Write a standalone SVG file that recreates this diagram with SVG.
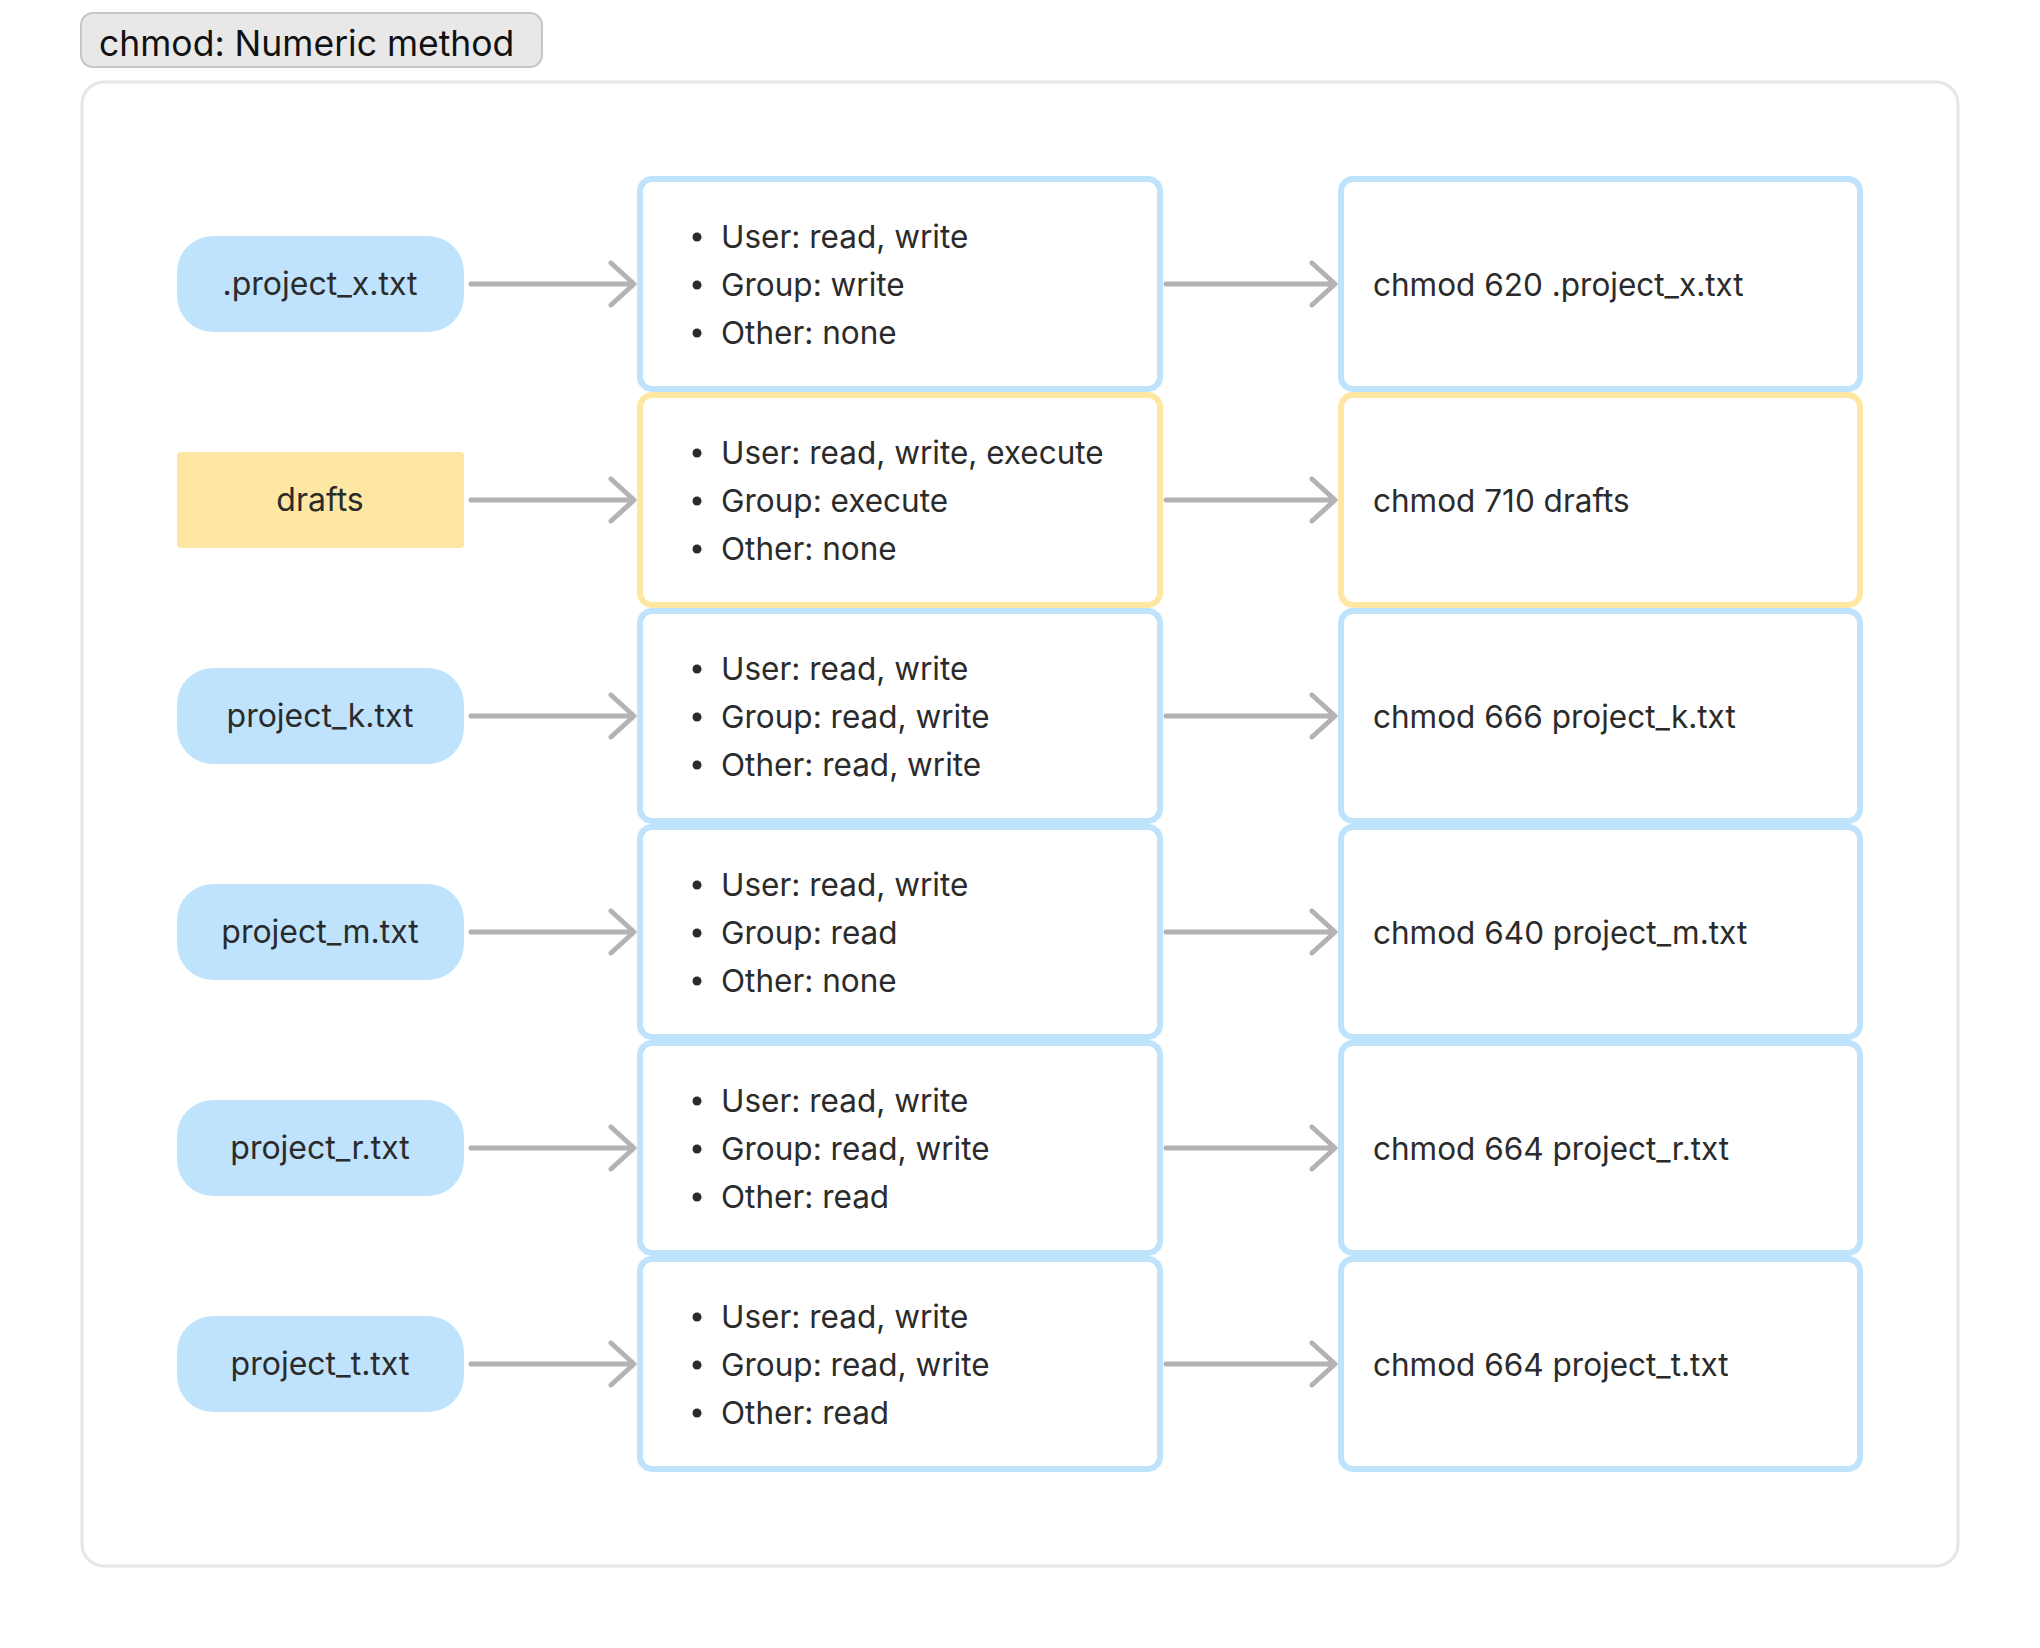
<svg xmlns="http://www.w3.org/2000/svg" width="2040" height="1648" viewBox="0 0 2040 1648">
<style>
.t{font-family:Inter,"Noto Sans","Liberation Sans",sans-serif;fill:#2b2b2b;font-size:31.5px}
.n{font-family:Inter,"Noto Sans","Liberation Sans",sans-serif;fill:#2b2b2b;font-size:32px}
.ttl{font-family:Inter,"Noto Sans","Liberation Sans",sans-serif;fill:#111;font-size:35.5px}
.pill{fill:#bfe3fd}
.sq{fill:#fee7a3}
.bb{fill:#fff;stroke:#bfe3fd;stroke-width:6}
.yb{fill:#fff;stroke:#fee7a3;stroke-width:6}
.arr{fill:none;stroke:#b3b3b3;stroke-width:5;stroke-linecap:round;stroke-linejoin:round}
.dot{fill:#2b2b2b}
</style>
<rect x="0" y="0" width="2040" height="1648" fill="#fff"/>
<g id="title">
<rect x="81" y="13" width="461" height="54" rx="12" fill="#e8e8e8" stroke="#c6c6c6" stroke-width="2"/>
<text class="ttl" x="99" y="56">chmod: Numeric method</text>
</g>
<g id="frame">
<rect x="82" y="82" width="1876" height="1484" rx="22" fill="none" stroke="#e6e6e6" stroke-width="3"/>
</g>

<g id="connectors">
<path class="arr" d="M471 284H633M611 263L634 284L611 305"/>
<path class="arr" d="M1166 284H1333M1312 263L1335 284L1312 305"/>
<path class="arr" d="M471 500H633M611 479L634 500L611 521"/>
<path class="arr" d="M1166 500H1333M1312 479L1335 500L1312 521"/>
<path class="arr" d="M471 716H633M611 695L634 716L611 737"/>
<path class="arr" d="M1166 716H1333M1312 695L1335 716L1312 737"/>
<path class="arr" d="M471 932H633M611 911L634 932L611 953"/>
<path class="arr" d="M1166 932H1333M1312 911L1335 932L1312 953"/>
<path class="arr" d="M471 1148H633M611 1127L634 1148L611 1169"/>
<path class="arr" d="M1166 1148H1333M1312 1127L1335 1148L1312 1169"/>
<path class="arr" d="M471 1364H633M611 1343L634 1364L611 1385"/>
<path class="arr" d="M1166 1364H1333M1312 1343L1335 1364L1312 1385"/>
</g>

<!-- Row 1 -->
<g id="file-project-x">
<rect class="pill" x="177" y="236" width="287" height="96" rx="36"/>
<text class="n" x="320" y="295" text-anchor="middle">.project_x.txt</text>
</g>
<g id="perm-project-x">
<rect class="bb" x="640" y="179" width="520" height="210" rx="12"/>
<circle class="dot" cx="697" cy="237" r="4.5"/><text class="t" x="721" y="248">User: read, write</text>
<circle class="dot" cx="697" cy="285" r="4.5"/><text class="t" x="721" y="296">Group: write</text>
<circle class="dot" cx="697" cy="333" r="4.5"/><text class="t" x="721" y="344">Other: none</text>
</g>
<g id="cmd-project-x">
<rect class="bb" x="1341" y="179" width="519" height="210" rx="12"/>
<text class="t" x="1373" y="296">chmod 620 .project_x.txt</text>
</g>

<!-- Row 2 -->
<g id="file-drafts">
<rect class="sq" x="177" y="452" width="287" height="96" rx="4"/>
<text class="n" x="320" y="511" text-anchor="middle">drafts</text>
</g>
<g id="perm-drafts">
<rect class="yb" x="640" y="395" width="520" height="210" rx="12"/>
<circle class="dot" cx="697" cy="453" r="4.5"/><text class="t" x="721" y="464">User: read, write, execute</text>
<circle class="dot" cx="697" cy="501" r="4.5"/><text class="t" x="721" y="512">Group: execute</text>
<circle class="dot" cx="697" cy="549" r="4.5"/><text class="t" x="721" y="560">Other: none</text>
</g>
<g id="cmd-drafts">
<rect class="yb" x="1341" y="395" width="519" height="210" rx="12"/>
<text class="t" x="1373" y="512">chmod 710 drafts</text>
</g>

<!-- Row 3 -->
<g id="file-project-k">
<rect class="pill" x="177" y="668" width="287" height="96" rx="36"/>
<text class="n" x="320" y="727" text-anchor="middle">project_k.txt</text>
</g>
<g id="perm-project-k">
<rect class="bb" x="640" y="611" width="520" height="210" rx="12"/>
<circle class="dot" cx="697" cy="669" r="4.5"/><text class="t" x="721" y="680">User: read, write</text>
<circle class="dot" cx="697" cy="717" r="4.5"/><text class="t" x="721" y="728">Group: read, write</text>
<circle class="dot" cx="697" cy="765" r="4.5"/><text class="t" x="721" y="776">Other: read, write</text>
</g>
<g id="cmd-project-k">
<rect class="bb" x="1341" y="611" width="519" height="210" rx="12"/>
<text class="t" x="1373" y="728">chmod 666 project_k.txt</text>
</g>

<!-- Row 4 -->
<g id="file-project-m">
<rect class="pill" x="177" y="884" width="287" height="96" rx="36"/>
<text class="n" x="320" y="943" text-anchor="middle">project_m.txt</text>
</g>
<g id="perm-project-m">
<rect class="bb" x="640" y="827" width="520" height="210" rx="12"/>
<circle class="dot" cx="697" cy="885" r="4.5"/><text class="t" x="721" y="896">User: read, write</text>
<circle class="dot" cx="697" cy="933" r="4.5"/><text class="t" x="721" y="944">Group: read</text>
<circle class="dot" cx="697" cy="981" r="4.5"/><text class="t" x="721" y="992">Other: none</text>
</g>
<g id="cmd-project-m">
<rect class="bb" x="1341" y="827" width="519" height="210" rx="12"/>
<text class="t" x="1373" y="944">chmod 640 project_m.txt</text>
</g>

<!-- Row 5 -->
<g id="file-project-r">
<rect class="pill" x="177" y="1100" width="287" height="96" rx="36"/>
<text class="n" x="320" y="1159" text-anchor="middle">project_r.txt</text>
</g>
<g id="perm-project-r">
<rect class="bb" x="640" y="1043" width="520" height="210" rx="12"/>
<circle class="dot" cx="697" cy="1101" r="4.5"/><text class="t" x="721" y="1112">User: read, write</text>
<circle class="dot" cx="697" cy="1149" r="4.5"/><text class="t" x="721" y="1160">Group: read, write</text>
<circle class="dot" cx="697" cy="1197" r="4.5"/><text class="t" x="721" y="1208">Other: read</text>
</g>
<g id="cmd-project-r">
<rect class="bb" x="1341" y="1043" width="519" height="210" rx="12"/>
<text class="t" x="1373" y="1160">chmod 664 project_r.txt</text>
</g>

<!-- Row 6 -->
<g id="file-project-t">
<rect class="pill" x="177" y="1316" width="287" height="96" rx="36"/>
<text class="n" x="320" y="1375" text-anchor="middle">project_t.txt</text>
</g>
<g id="perm-project-t">
<rect class="bb" x="640" y="1259" width="520" height="210" rx="12"/>
<circle class="dot" cx="697" cy="1317" r="4.5"/><text class="t" x="721" y="1328">User: read, write</text>
<circle class="dot" cx="697" cy="1365" r="4.5"/><text class="t" x="721" y="1376">Group: read, write</text>
<circle class="dot" cx="697" cy="1413" r="4.5"/><text class="t" x="721" y="1424">Other: read</text>
</g>
<g id="cmd-project-t">
<rect class="bb" x="1341" y="1259" width="519" height="210" rx="12"/>
<text class="t" x="1373" y="1376">chmod 664 project_t.txt</text>
</g>
</svg>
